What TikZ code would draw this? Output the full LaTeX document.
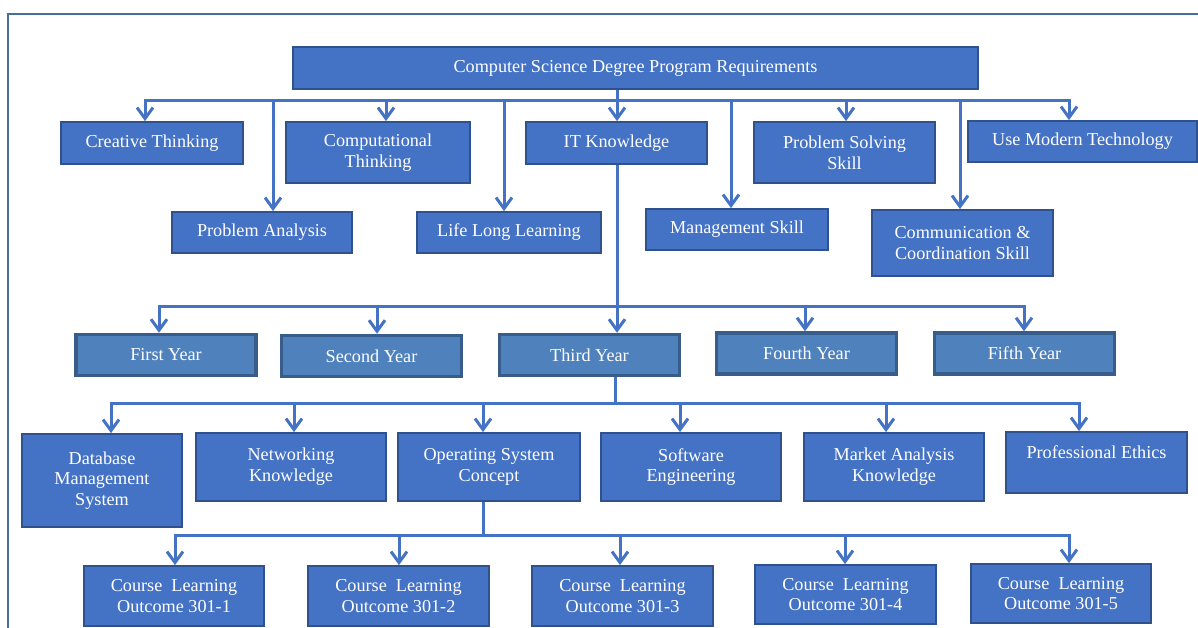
\documentclass[tikz,border=0pt]{standalone}
\usepackage{fontspec}
\setmainfont{Liberation Serif}
\usetikzlibrary{arrows.meta}
\definecolor{boxBlue}{HTML}{4472C4}
\definecolor{boxEdge}{HTML}{2F528F}
\definecolor{yearBlue}{HTML}{4F81BD}
\definecolor{yearEdge}{HTML}{385D8A}
\definecolor{frameEdge}{HTML}{41719C}

\begin{document}
\begin{tikzpicture}
[x=1pt,y=-1pt,
  boxDecorate/.style={shape=rectangle,draw=boxEdge,fill=boxBlue,line width=1.8pt,text=white,align=center,inner sep=2pt,font=\fontsize{18.2}{20.8}\selectfont},%
  yearDecorate/.style={boxDecorate,draw=yearEdge,fill=yearBlue,line width=3.5pt},%
  lineDecorate/.style={-,draw=boxBlue,line width=3pt},%
  arrowDecorate/.style={lineDecorate,-{Straight Barb[length=11pt,width=16pt]}}]
\useasboundingbox (0,0) rectangle (1198,628);
%% frame
\draw[draw=frameEdge,line width=2pt] (8,628) -- (8,14) -- (1198,14);
%% boxes
\foreach \nodename/\x/\y/\w/\h/\nodetext in {
  root/635.5/68/685/42/{Computer Science Degree Program Requirements},
  creative/152/143/182/42/{Creative Thinking},
  compthink/378/152.5/184/61/{Computational\\Thinking},
  itknow/616.5/143/181/42/{IT Knowledge},
  probsolve/844.5/152.5/181/61/{Problem Solving\\Skill},
  modtech/1082.5/141.5/229/41/{Use Modern Technology},
  probanal/262/232.5/180/41/{Problem Analysis},
  lifelong/509/232.5/184/41/{Life Long Learning},
  mgmt/737/229.5/182/41/{Management Skill},
  comm/962.5/243/181/66/{Communication \&\\Coordination Skill},
  dbms/102/480.5/160/93/{Database\\Management\\System},
  network/291/467/190/68/{Networking\\Knowledge},
  opsys/489/467/182/68/{Operating System\\Concept},
  softeng/691/467/180/68/{Software\\Engineering},
  market/894/467/180/68/{Market Analysis\\Knowledge},
  ethics/1096.5/462.5/181/61/{Professional Ethics\\\mbox{}},
  clofirst/174/596/180/60/{Course\ \ Learning\\Outcome 301-1},
  closecond/398.5/596/181/60/{Course\ \ Learning\\Outcome 301-2},
  clothird/622.5/596/181/60/{Course\ \ Learning\\Outcome 301-3},
  clofourth/845.5/594.5/181/59/{Course\ \ Learning\\Outcome 301-4},
  clofifth/1061/593.5/180/59/{Course\ \ Learning\\Outcome 301-5}}
{
  \node (\nodename) at (\x,\y) [boxDecorate,minimum width=\w pt,minimum height=\h pt] {\nodetext};
}
\foreach \nodename/\x/\y/\nodetext in {
  first/166/355/First Year, second/371.5/356/Second Year, third/589.5/355/Third Year,
  fourth/806.5/353.5/Fourth Year, fifth/1024.5/353.5/Fifth Year}
{
  \node (\nodename) at (\x,\y) [yearDecorate,minimum width=180pt,minimum height=41pt] {\nodetext};
}
%% buses
\coordinate (busA) at (617,100.5);
\coordinate (busB) at (617,306);
\coordinate (busC) at (615,403);
\coordinate (busD) at (483,535);
\draw[lineDecorate] (root.south -| busA) -- (busA);
\draw[lineDecorate] (itknow.south -| busB) -- (busB);
\draw[lineDecorate] (third.south -| busC) -- (busC);
\draw[lineDecorate] (opsys.south -| busD) -- (busD);
%% arrows
\foreach \endnode/\dx in {creative/-7, probanal/11, compthink/8, lifelong/-5, itknow/0.5,
  mgmt/-6, probsolve/1.5, comm/-2.5, modtech/-13.5}
{
  \draw[arrowDecorate] (busA) -| ([xshift=\dx pt]\endnode.north);
}
\foreach \endnode/\dx in {first/-7, second/5.5, third/27.5, fourth/-1.5, fifth/-0.5}
{
  \draw[arrowDecorate] (busB) -| ([xshift=\dx pt]\endnode.north);
}
\foreach \endnode/\dx in {dbms/9, network/3, opsys/-6, softeng/-11, market/-8, ethics/-17.5}
{
  \draw[arrowDecorate] (busC) -| ([xshift=\dx pt]\endnode.north);
}
\foreach \endnode/\dx in {clofirst/1, closecond/0.5, clothird/-2.5, clofourth/-0.5, clofifth/8}
{
  \draw[arrowDecorate] (busD) -| ([xshift=\dx pt]\endnode.north);
}
\end{tikzpicture}
\end{document}
